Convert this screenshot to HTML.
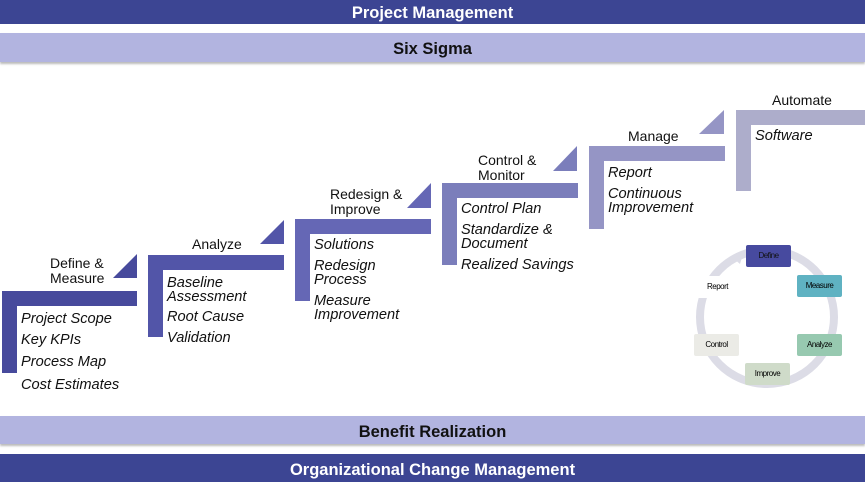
<!DOCTYPE html>
<html><head><style>
body{margin:0;width:865px;height:482px;overflow:hidden;background:#fff;font-family:"Liberation Sans",sans-serif;position:relative}
.bar{position:absolute;left:0;width:865px;text-align:center;font-weight:bold;font-size:16.5px}
.t{position:absolute;font-size:14px;color:#111;line-height:15px}
.i{position:absolute;font-size:14.6px;font-style:italic;color:#111;line-height:14px}
.b{position:absolute;font-size:8px;text-align:center;line-height:22px;height:22px;width:45px;letter-spacing:-0.5px}
</style></head><body>
<div class="bar" style="top:0;height:24px;line-height:27px;background:#3c4593;color:#fff">Project Management</div>
<div class="bar" style="top:33px;height:29px;line-height:33px;background:#b2b4e0;color:#111;box-shadow:0 2px 2px #bbb">Six Sigma</div>
<div class="bar" style="top:416px;height:28px;line-height:32px;background:#b2b4e0;color:#111;box-shadow:0 2px 2px #bbb">Benefit Realization</div>
<div class="bar" style="top:454px;height:28px;line-height:33px;background:#3c4593;color:#fff">Organizational Change Management</div>
<svg width="865" height="482" style="position:absolute;left:0;top:0">
<g fill="#474a9c"><path d="M2 291H137V306H17V373H2Z"/><path d="M113 278L137 254V278Z"/></g>
<g fill="#5255a8"><path d="M148 255H284V270H163V337H148Z"/><path d="M260 244L284 220V244Z"/></g>
<g fill="#6567b5"><path d="M295 219H431V234H310V301H295Z"/><path d="M407 208L431 183V208Z"/></g>
<g fill="#7b7ebb"><path d="M442 183H578V198H457V265H442Z"/><path d="M553 171L577 146V171Z"/></g>
<g fill="#9595c5"><path d="M589 146H725V161H604V229H589Z"/><path d="M699 134L724 110V134Z"/></g>
<g fill="#adadcb"><path d="M736 110H865V125H751V191H736Z"/></g>
<circle cx="767" cy="317" r="67" fill="none" stroke="#dcdce6" stroke-width="8"/>
<path d="M733 258l10 -4-3 10z" fill="#dcdce6"/>
</svg>
<div class="t" style="left:50px;top:256px">Define &amp;<br>Measure</div>
<div class="t" style="left:192px;top:237px">Analyze</div>
<div class="t" style="left:330px;top:187px">Redesign &amp;<br>Improve</div>
<div class="t" style="left:478px;top:153px">Control &amp;<br>Monitor</div>
<div class="t" style="left:628px;top:129px">Manage</div>
<div class="t" style="left:772px;top:93px">Automate</div>
<div class="i" style="left:21px;top:312px">Project Scope</div>
<div class="i" style="left:21px;top:333px">Key KPIs</div>
<div class="i" style="left:21px;top:355px">Process Map</div>
<div class="i" style="left:21px;top:378px">Cost Estimates</div>
<div class="i" style="left:167px;top:276px">Baseline<br>Assessment</div>
<div class="i" style="left:167px;top:310px">Root Cause</div>
<div class="i" style="left:167px;top:331px">Validation</div>
<div class="i" style="left:314px;top:238px">Solutions</div>
<div class="i" style="left:314px;top:259px">Redesign<br>Process</div>
<div class="i" style="left:314px;top:294px">Measure<br>Improvement</div>
<div class="i" style="left:461px;top:202px">Control Plan</div>
<div class="i" style="left:461px;top:223px">Standardize &amp;<br>Document</div>
<div class="i" style="left:461px;top:258px">Realized Savings</div>
<div class="i" style="left:608px;top:166px">Report</div>
<div class="i" style="left:608px;top:187px">Continuous<br>Improvement</div>
<div class="i" style="left:755px;top:129px">Software</div>
<div class="b" style="left:746px;top:245px;background:#474a9f;color:#111;border-radius:2px">Define</div>
<div class="b" style="left:797px;top:275px;background:#5fb2c2;border-radius:2px">Measure</div>
<div class="b" style="left:797px;top:334px;background:#97c9b0;border-radius:2px">Analyze</div>
<div class="b" style="left:745px;top:363px;background:#cfdbc9;border-radius:2px">Improve</div>
<div class="b" style="left:694px;top:334px;background:#ebebe6;border-radius:2px">Control</div>
<div class="b" style="left:695px;top:276px;background:#fff">Report</div>
</body></html>
